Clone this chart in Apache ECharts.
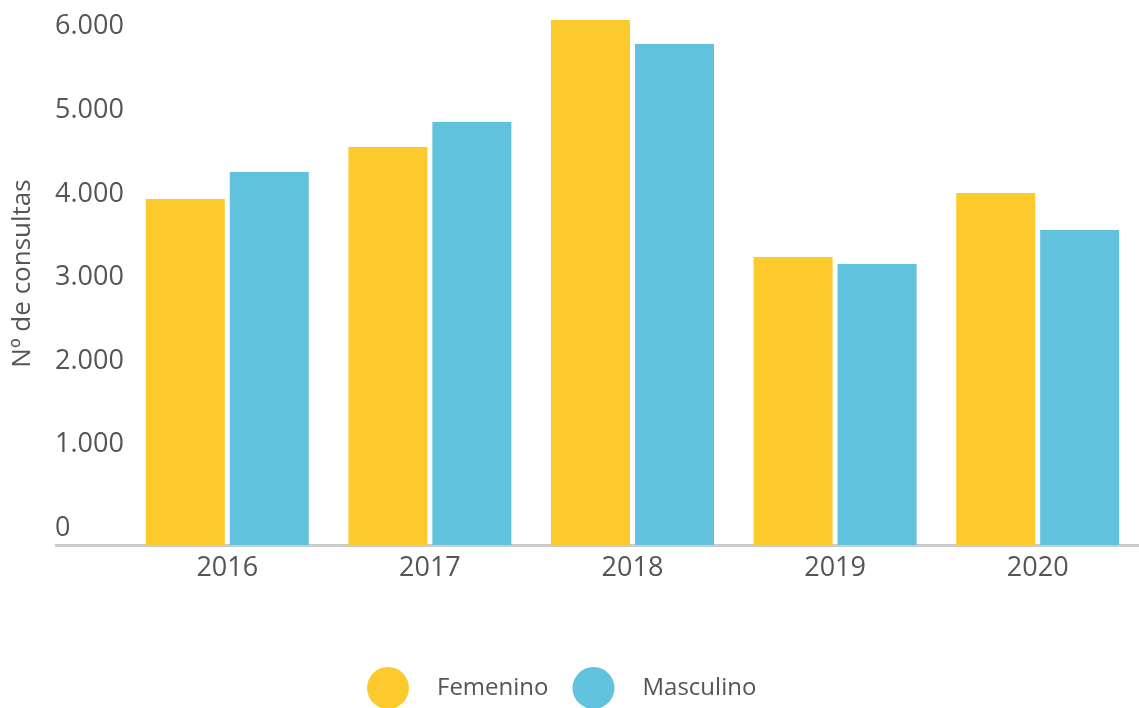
<!DOCTYPE html>
<html>
<head>
<meta charset="utf-8">
<script src="https://cdn.jsdelivr.net/npm/echarts@6/dist/echarts.min.js"></script>
<style>
html,body{margin:0;padding:0;background:#fff;}
#chart{width:1139px;height:708px;}
</style>
</head>
<body>
<div id="chart"></div>
<script>
const categories = ['2016', '2017', '2018', '2019', '2020'];
const femenino = [4142, 4764, 6284, 3447, 4214];
const masculino = [4465, 5063, 5997, 3364, 3771];
const yTicks = [0, 1000, 2000, 3000, 4000, 5000, 6000];

const FONT = '"Open Sans", sans-serif';
const chart = echarts.init(document.getElementById('chart'), null, {renderer: 'canvas'});
chart.setOption({
  animation: false,
  grid: {left: 126, right: 0, top: 2, bottom: 163, containLabel: false},
  legend: {
    left: 367, top: 667, padding: 0,
    itemWidth: 42, itemHeight: 42, itemGap: 24,
    icon: 'circle',
    textStyle: {fontFamily: FONT, fontSize: 24, color: '#555555', padding: [0, 0, 0, 23]},
    data: ['Femenino', 'Masculino']
  },
  xAxis: {
    type: 'category',
    data: categories,
    axisLine: {lineStyle: {color: '#cccccc', width: 3}},
    axisTick: {show: false},
    axisLabel: {fontFamily: FONT, fontSize: 27, color: '#555555', margin: 10}
  },
  yAxis: {
    type: 'value',
    min: 0, max: 6500, interval: 1000,
    name: 'Nº de consultas',
    nameLocation: 'middle',
    nameGap: 90,
    nameTextStyle: {fontFamily: FONT, fontSize: 26, color: '#555555'},
    axisLine: {show: false},
    axisTick: {show: false},
    splitLine: {show: false},
    axisLabel: {
      showMaxLabel: false,
      fontFamily: FONT, fontSize: 27, color: '#555555', margin: 71,
      align: 'left',
      verticalAlign: 'bottom', lineHeight: 34,
      formatter: function (v) {
        if (yTicks.indexOf(v) < 0) return '';
        return v.toLocaleString('de-DE');
      }
    }
  },
  graphic: [{
    type: 'line',
    shape: {x1: 55, y1: 545.5, x2: 127, y2: 545.5},
    style: {stroke: '#cccccc', lineWidth: 3},
    z: 0
  }],
  series: [
    {name: 'Femenino', type: 'bar', data: femenino, barWidth: 79, barGap: '6.3%', itemStyle: {color: '#FCCA2C'}},
    {name: 'Masculino', type: 'bar', data: masculino, barWidth: 79, itemStyle: {color: '#61C2DD'}}
  ]
});
</script>
</body>
</html>
